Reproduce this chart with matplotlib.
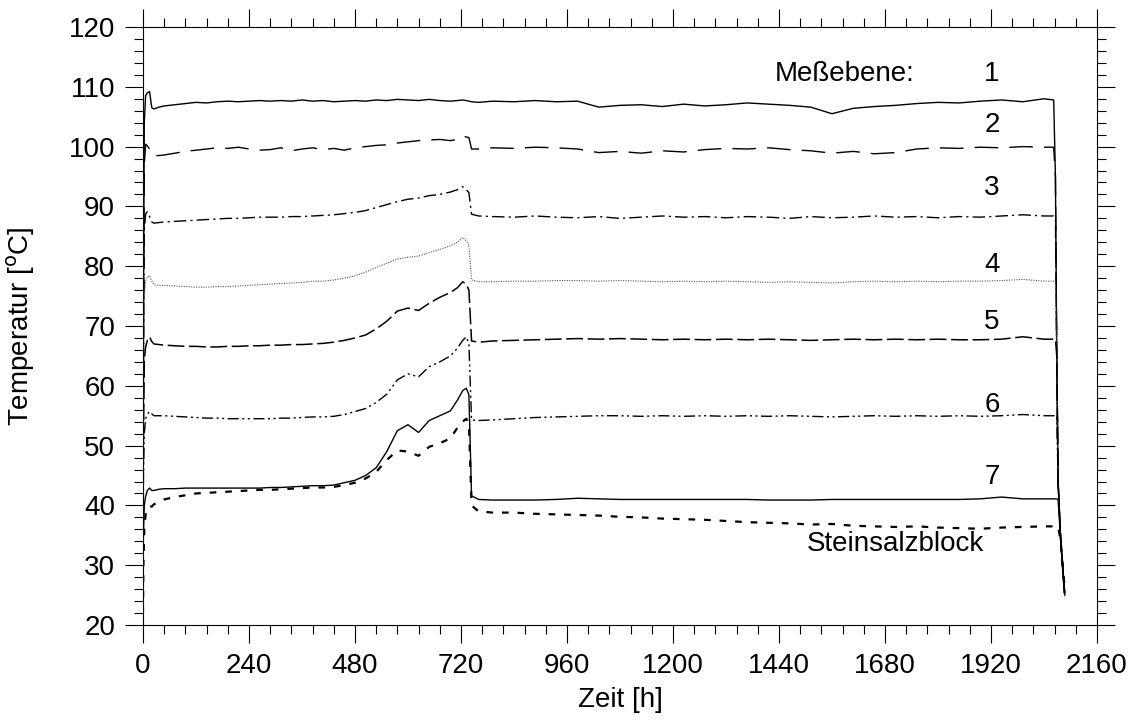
import matplotlib
matplotlib.use("Agg")
import matplotlib.pyplot as plt
from matplotlib.ticker import MultipleLocator

plt.rcParams["font.family"] = ["Liberation Sans", "DejaVu Sans"]

# time axis [h], shared by all curves
zeit_h = (
    [0, 1, 3, 6, 10, 15, 20, 25, 36, 48]
    + [72, 96, 120, 144, 168, 192, 216, 240, 264, 288, 312, 336, 360, 384,
       408, 432, 456, 480, 504, 528, 552, 576, 600, 624, 648, 672, 696]
    + [712, 724, 732, 738, 744]
    + [760, 792, 840, 888, 936, 984, 1032, 1080, 1128, 1176, 1224, 1272, 1320, 1368,
       1416, 1464, 1512, 1560, 1608, 1656, 1704, 1752, 1800, 1848, 1896, 1944, 1992, 2040]
    + [2062, 2066, 2069, 2072, 2078, 2087]
)

ebene_1 = (
    [22, 70, 104, 108.5, 109.0, 109.2, 106.5, 106.3, 106.6, 106.8]
    + [107.0, 107.2, 107.4, 107.3, 107.5, 107.6, 107.5, 107.6, 107.7, 107.6, 107.7, 107.6, 107.8, 107.6,
       107.7, 107.5, 107.6, 107.7, 107.6, 107.8, 107.7, 107.9, 107.8, 107.7, 107.9, 107.7, 107.6]
    + [107.7, 107.8, 107.7, 107.6, 107.5]
    + [107.4, 107.6, 107.5, 107.7, 107.5, 107.6, 106.6, 106.9, 107.0, 106.7, 107.1, 106.8, 107.0, 107.3,
       107.1, 106.9, 106.6, 105.5, 106.4, 106.7, 106.9, 107.2, 107.4, 107.3, 107.6, 107.8, 107.5, 108.0]
    + [107.8, 95, 65, 44, 34, 25]
)
ebene_2 = (
    [22, 65, 97, 100.4, 100.1, 99.6, 98.6, 98.5, 98.5, 98.6]
    + [98.9, 99.2, 99.4, 99.6, 99.8, 99.7, 99.9, 99.6, 99.4, 99.5, 99.8, 99.3, 99.6, 99.8,
       99.5, 99.7, 99.4, 99.8, 100.0, 100.2, 100.3, 100.6, 100.8, 101.0, 101.1, 101.2, 101.0]
    + [101.2, 101.8, 101.6, 101.5, 99.6]
    + [99.6, 99.8, 99.7, 99.9, 99.8, 99.6, 99.0, 99.2, 98.9, 99.3, 99.1, 99.5, 99.7, 99.6,
       99.8, 99.5, 99.3, 98.9, 99.2, 98.8, 99.0, 99.6, 99.8, 99.7, 99.9, 99.8, 100.0, 99.9]
    + [99.9, 95, 65, 44, 34, 25.5]
)
ebene_3 = (
    [22, 60, 86, 88.7, 89.1, 88.3, 87.4, 87.2, 87.3, 87.4]
    + [87.5, 87.6, 87.7, 87.8, 87.9, 88.0, 88.0, 88.1, 88.2, 88.2, 88.2, 88.3, 88.3, 88.4,
       88.5, 88.6, 88.8, 89.0, 89.3, 89.8, 90.3, 90.8, 91.2, 91.4, 91.8, 92.0, 92.4]
    + [92.8, 93.3, 92.8, 92.3, 88.7]
    + [88.4, 88.3, 88.2, 88.4, 88.2, 88.1, 88.3, 88.0, 88.2, 88.4, 88.2, 88.3, 88.1, 88.3,
       88.2, 88.0, 88.3, 88.1, 88.2, 88.4, 88.2, 88.3, 88.1, 88.3, 88.2, 88.4, 88.6, 88.4]
    + [88.4, 88.0, 65, 44, 34, 25]
)
ebene_4 = (
    [22, 55, 75, 77.5, 78.2, 78.4, 77.5, 76.9, 76.8, 76.8]
    + [76.7, 76.6, 76.5, 76.5, 76.6, 76.6, 76.7, 76.8, 76.9, 77.0, 77.1, 77.2, 77.3, 77.5,
       77.5, 77.7, 78.0, 78.4, 79.0, 79.8, 80.5, 81.2, 81.5, 81.7, 82.3, 82.8, 83.4]
    + [84.0, 84.8, 84.3, 83.5, 77.7]
    + [77.4, 77.4, 77.5, 77.5, 77.6, 77.6, 77.5, 77.6, 77.5, 77.4, 77.5, 77.4, 77.5, 77.4,
       77.3, 77.4, 77.3, 77.2, 77.4, 77.5, 77.4, 77.5, 77.4, 77.5, 77.5, 77.6, 77.8, 77.5]
    + [77.5, 77.5, 65, 44, 34, 25]
)
ebene_5 = (
    [22, 50, 64, 66.5, 67.6, 68.2, 67.4, 67.0, 66.9, 66.8]
    + [66.7, 66.6, 66.6, 66.5, 66.5, 66.6, 66.6, 66.7, 66.7, 66.8, 66.8, 66.9, 66.9, 67.0,
       67.1, 67.3, 67.6, 68.0, 68.5, 69.5, 70.8, 72.5, 73.0, 72.6, 73.8, 74.8, 75.6]
    + [76.4, 77.4, 77.0, 76.0, 67.5]
    + [67.3, 67.5, 67.6, 67.7, 67.8, 67.9, 67.8, 67.9, 67.8, 67.7, 67.8, 67.7, 67.8, 67.7,
       67.8, 67.7, 67.6, 67.7, 67.8, 67.7, 67.8, 67.7, 67.8, 67.7, 67.7, 67.8, 68.2, 67.8]
    + [67.8, 67.8, 65, 44, 34, 24.5]
)
ebene_6 = (
    [22, 45, 52, 54.5, 55.3, 55.7, 55.3, 55.0, 55.0, 55.0]
    + [54.9, 54.8, 54.7, 54.6, 54.6, 54.5, 54.5, 54.5, 54.5, 54.5, 54.6, 54.6, 54.7, 54.8,
       54.8, 54.9, 55.2, 55.7, 56.2, 57.2, 58.6, 61.0, 62.0, 61.5, 63.2, 64.0, 65.0]
    + [66.3, 67.6, 68.2, 67.0, 54.3]
    + [54.2, 54.3, 54.5, 54.7, 54.8, 54.9, 55.0, 55.0, 54.9, 55.0, 54.9, 55.0, 54.9, 55.0,
       54.9, 55.0, 54.9, 54.8, 54.9, 55.0, 54.9, 55.0, 54.9, 55.0, 54.9, 55.0, 55.2, 55.0]
    + [55.0, 55.0, 55.0, 44, 34, 25]
)
ebene_7 = (
    [22, 35, 40, 41.5, 42.5, 42.9, 42.5, 42.5, 42.7, 42.8]
    + [42.8, 42.9, 42.9, 42.9, 42.9, 42.9, 42.9, 42.9, 42.9, 43.0, 43.0, 43.1, 43.2, 43.3,
       43.3, 43.4, 43.8, 44.2, 45.0, 46.3, 49.0, 52.5, 53.5, 52.2, 54.2, 55.0, 55.8]
    + [57.6, 59.2, 59.6, 58.5, 41.6]
    + [41.0, 40.9, 40.9, 40.9, 41.0, 41.2, 41.1, 41.0, 41.0, 41.0, 41.0, 41.0, 41.0, 41.0,
       40.9, 40.9, 40.9, 41.0, 41.0, 41.0, 41.0, 41.0, 41.0, 41.0, 41.1, 41.4, 41.1, 41.1]
    + [41.1, 41.1, 41.1, 41.0, 34, 25.5]
)
steinsalzblock = (
    [22, 30, 36, 38.5, 39.5, 39.9, 39.8, 40.2, 40.6, 41.0]
    + [41.4, 41.7, 42.0, 42.1, 42.2, 42.3, 42.4, 42.5, 42.6, 42.6, 42.7, 42.8, 42.9, 43.0,
       43.0, 43.1, 43.4, 43.8, 44.5, 45.6, 47.6, 49.2, 49.0, 48.3, 49.8, 50.4, 51.2]
    + [53.0, 54.0, 54.5, 53.8, 40.0]
    + [39.0, 38.8, 38.8, 38.6, 38.5, 38.4, 38.3, 38.1, 38.0, 37.8, 37.7, 37.6, 37.4, 37.2,
       37.1, 37.0, 36.8, 36.9, 36.6, 36.5, 36.4, 36.5, 36.3, 36.2, 36.1, 36.3, 36.4, 36.5]
    + [36.5, 36.5, 36.5, 36.5, 34, 26]
)

ebenen = [ebene_1, ebene_2, ebene_3, ebene_4, ebene_5, ebene_6, ebene_7, steinsalzblock]
ebenen_labels = ["1", "2", "3", "4", "5", "6", "7"]
ebenen_label_y = [112.2, 103.6, 93.1, 80.2, 70.7, 56.8, 44.8]

# dash patterns (on/off in points), one per curve
line_styles = [
    dict(ls="-", lw=1.0, color="black"),
    dict(ls=(0, (17, 8)), lw=1.0, color="black"),
    dict(ls=(0, (9, 3, 1.5, 3)), lw=1.0, color="black"),
    dict(ls=(0, (1, 1.2)), lw=0.8, color="#555555"),
    dict(ls=(0, (11, 3)), lw=1.1, color="black"),
    dict(ls=(0, (8, 2.5, 1.5, 2.5, 1.5, 2.5)), lw=1.0, color="black"),
    dict(ls="-", lw=1.0, color="black"),
    dict(ls=(0, (3, 4)), lw=1.6, color="black"),
]

fs = 20

fig = plt.figure(figsize=(11.31, 7.22), dpi=100)
ax = fig.add_axes([0.1264, 0.1343, 0.8435, 0.8283])

for werte, style in zip(ebenen, line_styles):
    ax.plot(zeit_h, werte, **style)

ax.set_xlim(0, 2160)
ax.set_ylim(20, 120)
ax.xaxis.set_major_locator(MultipleLocator(240))
ax.xaxis.set_minor_locator(MultipleLocator(48))
ax.yaxis.set_major_locator(MultipleLocator(10))
ax.yaxis.set_minor_locator(MultipleLocator(2))
ax.tick_params(which="both", direction="out", top=True, right=True, width=0.8, labelsize=fs)
ax.tick_params(which="major", length=13, pad=7)
ax.tick_params(which="minor", length=6.5)
for spine in ax.spines.values():
    spine.set_linewidth(0.8)

ax.set_xlabel("Zeit [h]", fontsize=fs)
ax.set_ylabel("Temperatur [$^{\\mathrm{o}}$C]", fontsize=fs)
ax.xaxis.set_label_coords(0.5, -0.103)
ax.yaxis.set_label_coords(-0.111, 0.5)

ax.text(1748, 112.2, "Meßebene:", fontsize=fs, ha="right", va="center")
for label, y in zip(ebenen_labels, ebenen_label_y):
    ax.text(1922, y, label, fontsize=fs, ha="center", va="center")
ax.text(1703, 33.6, "Steinsalzblock", fontsize=fs, ha="center", va="center")

fig.savefig("out.png", dpi=100)
